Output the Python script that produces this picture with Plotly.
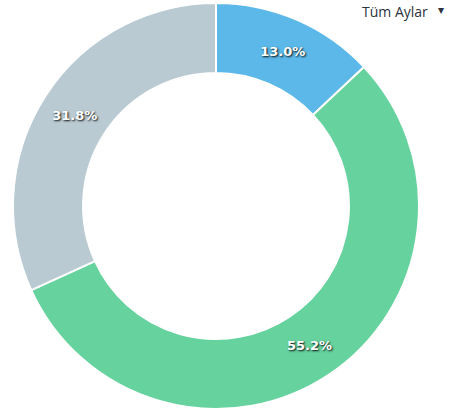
import plotly.graph_objects as go

labels = ["A", "B", "C"]
values = [13.0, 55.2, 31.8]
colors = ["#5BB8E8", "#66D29E", "#B9CAD2"]
menu_label = "Tüm Aylar"

fig = go.Figure(go.Pie(
    labels=labels,
    values=values,
    hole=0.655,
    sort=False,
    direction="clockwise",
    rotation=0,
    marker=dict(colors=colors, line=dict(color="white", width=2)),
    textinfo="percent",
    texttemplate="%{percent:.1%}",
    textposition="inside",
    insidetextorientation="horizontal",
    textfont=dict(family="DejaVu Sans, sans-serif", size=13, color="white",
                  weight="bold", shadow="1px 1px 2px rgba(0,0,0,0.95)"),
    domain=dict(x=[13/452, 419/452], y=[0, 1]),
    showlegend=False,
    hoverinfo="skip",
))

fig.add_annotation(
    x=430/452, y=1, xref="paper", yref="paper", xanchor="right", yanchor="top",
    yshift=3,
    text=menu_label, showarrow=False,
    font=dict(family="Open Sans, sans-serif", size=14, color="#2b3340"),
)
fig.add_annotation(
    x=436/452, y=1, xref="paper", yref="paper", xanchor="left", yanchor="top",
    yshift=2,
    text="▾", showarrow=False,
    font=dict(family="DejaVu Sans, sans-serif", size=12, color="#2b3340"),
)

fig.update_layout(
    width=452, height=410,
    margin=dict(l=0, r=0, t=3, b=1),
    paper_bgcolor="white", plot_bgcolor="white",
)

fig.write_html("out.html", config={"displayModeBar": False},
               post_script="document.body.style.margin='0';")
